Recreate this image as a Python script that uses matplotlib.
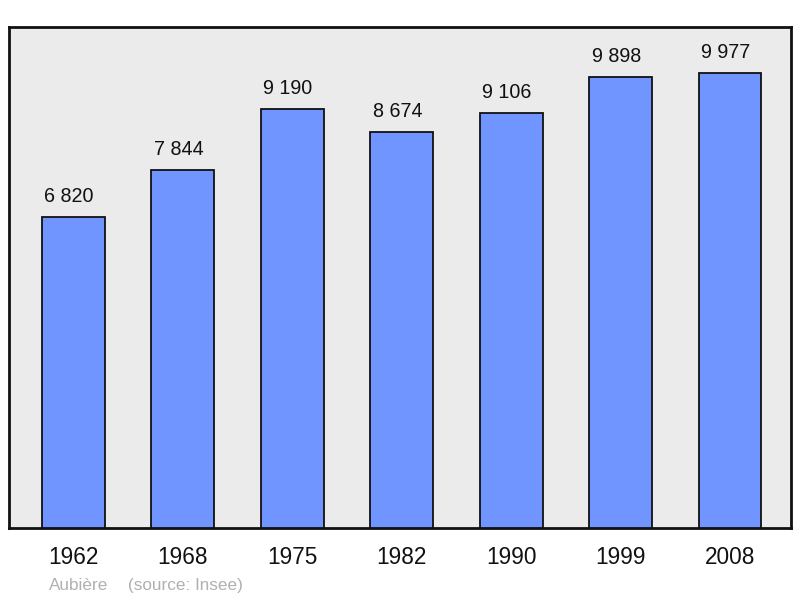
import matplotlib
matplotlib.use("Agg")
import matplotlib.pyplot as plt
from matplotlib.transforms import offset_copy

years = ["1962", "1968", "1975", "1982", "1990", "1999", "2008"]
population = [6820, 7844, 9190, 8674, 9106, 9898, 9977]
value_labels = ["6 820", "7 844", "9 190", "8 674", "9 106", "9 898", "9 977"]
caption_name = "Aubière"
caption_source = "(source: Insee)"

plt.rcParams['font.family'] = ['Liberation Sans', 'DejaVu Sans']

fig = plt.figure(figsize=(8.0, 5.98), dpi=100)
W, H = 800, 598
ax = fig.add_axes([9/W, 1 - 528/H, (791-9)/W, (528-27)/H])
ax.set_facecolor('#ebebeb')

x = list(range(len(years)))
ax.bar(x, population, width=0.575, color='#7195ff', edgecolor='#111111', linewidth=1.3, zorder=3)
ax.set_xlim(-0.585, 6.557)
ax.set_ylim(0, 10987)

for i, (v, lab) in enumerate(zip(population, value_labels)):
    tr = offset_copy(ax.transData, fig=fig, x=-4, y=15, units='dots')
    ax.text(i, v, lab, transform=tr, ha='center', va='baseline', fontsize=14.2, color='#111111')

ax.set_xticks(x)
ax.set_xticklabels(years, fontsize=16.3, color='#111111')
ax.tick_params(axis='x', length=0, pad=13)
ax.set_yticks([])
for s in ax.spines.values():
    s.set_linewidth(2.0)
    s.set_color('#111111')

fig.text(49/W, 1 - 590/H, caption_name, fontsize=12.3, color='#b0b0b0', va='baseline', ha='left')
fig.text(128/W, 1 - 590/H, caption_source, fontsize=12.3, color='#b0b0b0', va='baseline', ha='left')

fig.savefig('out.png', dpi=100)
